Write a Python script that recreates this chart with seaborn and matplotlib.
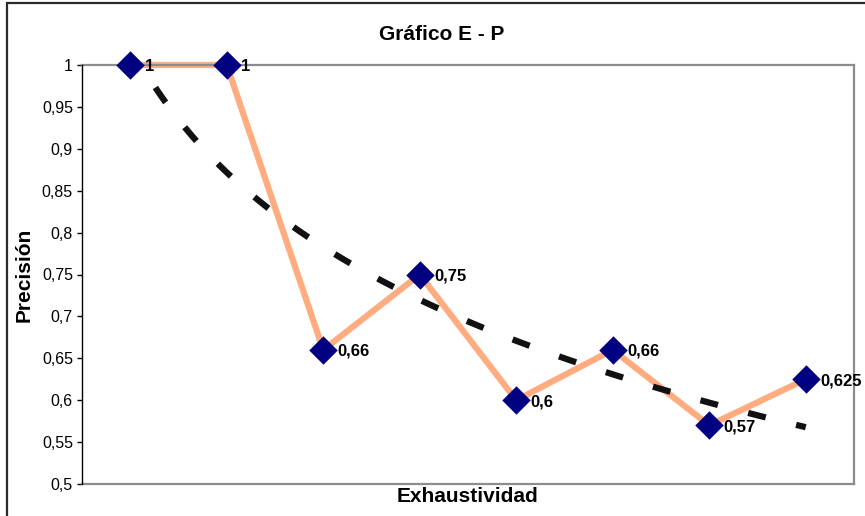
import matplotlib
matplotlib.use("Agg")
import matplotlib.pyplot as plt
import matplotlib.patches as mpatches
import seaborn as sns
import pandas as pd

# ---- data ----
recall_points = [1, 2, 3, 4, 5, 6, 7, 8]
precision = [1, 1, 0.66, 0.75, 0.6, 0.66, 0.57, 0.625]
point_labels = ['1', '1', '0,66', '0,75', '0,6', '0,66', '0,57', '0,625']
y_ticks = [0.5, 0.55, 0.6, 0.65, 0.7, 0.75, 0.8, 0.85, 0.9, 0.95, 1.0]
y_tick_labels = ['0,5', '0,55', '0,6', '0,65', '0,7', '0,75', '0,8', '0,85', '0,9', '0,95', '1']
title = 'Gráfico E - P'
x_label = 'Exhaustividad'
y_label = 'Precisión'

df = pd.DataFrame({'x': recall_points, 'y': precision})

sns.set_theme(style='white')
plt.rcParams['font.family'] = ['Liberation Sans', 'DejaVu Sans']

W, H = 865, 516
fig = plt.figure(figsize=(W / 100, H / 100), dpi=100)
fig.patch.set_facecolor('white')
ax = fig.add_axes([82 / W, 1 - 484 / H, (854 - 82) / W, (484 - 65) / H])

# series line
sns.lineplot(data=df, x='x', y='y', ax=ax, color='#FFAD80', linewidth=4.5,
             zorder=2, sort=False, clip_on=False)
# logarithmic trend line
sns.regplot(data=df, x='x', y='y', ax=ax, logx=True, ci=None, scatter=False,
            truncate=True,
            line_kws=dict(color='#111111', linewidth=4.5,
                          linestyle=(0, (2.9, 5.0)), dash_capstyle='butt',
                          zorder=3, clip_on=True))
# markers
sns.scatterplot(data=df, x='x', y='y', ax=ax, marker='D', s=210,
                color='#000080', edgecolor='#000080', linewidth=0, zorder=4,
                clip_on=False)

for xv, yv, lab in zip(recall_points, precision, point_labels):
    ax.annotate(lab, (xv, yv), xytext=(10.5, 0), textcoords='offset points',
                ha='left', va='center_baseline', fontsize=12, fontweight='bold',
                color='black', zorder=5, annotation_clip=False)

ax.set_xlim(0.5, 8.5)
ax.set_ylim(0.5, 1.0)
ax.set_yticks(y_ticks)
ax.set_yticklabels(y_tick_labels, fontsize=11.5)
ax.set_xticks([])
ax.tick_params(axis='y', which='major', left=True, direction='out', length=3.5,
               width=1, color='black', pad=3, labelcolor='black')
ax.grid(False)

for side in ['top', 'right', 'bottom']:
    ax.spines[side].set_visible(True)
    ax.spines[side].set_color('#8c8c8c')
    ax.spines[side].set_linewidth(1.6)
ax.spines['left'].set_color('black')
ax.spines['left'].set_linewidth(1.0)
ax.spines['left'].set_zorder(6)

ax.set_xlabel(x_label, fontsize=15, fontweight='bold', color='black')
ax.set_ylabel(y_label, fontsize=15, fontweight='bold', color='black')
ax.xaxis.label.set_va('center')
ax.xaxis.set_label_coords(0.5, (484 - 497) / 419)
ax.yaxis.label.set_va('center')
ax.yaxis.set_label_coords((24 - 82) / 772, 0.5)

fig.text(442 / W, 1 - 34 / H, title, ha='center', va='center',
         fontsize=15, fontweight='bold', color='black')

# outer chart border
border = mpatches.Rectangle((7 / W, -0.2), 1.5, 1.2 - 2.5 / H,
                            transform=fig.transFigure, fill=False,
                            edgecolor='#2b2b2b', linewidth=1.6, zorder=10)
fig.patches.append(border)

fig.savefig('out.png', dpi=100, facecolor='white')
